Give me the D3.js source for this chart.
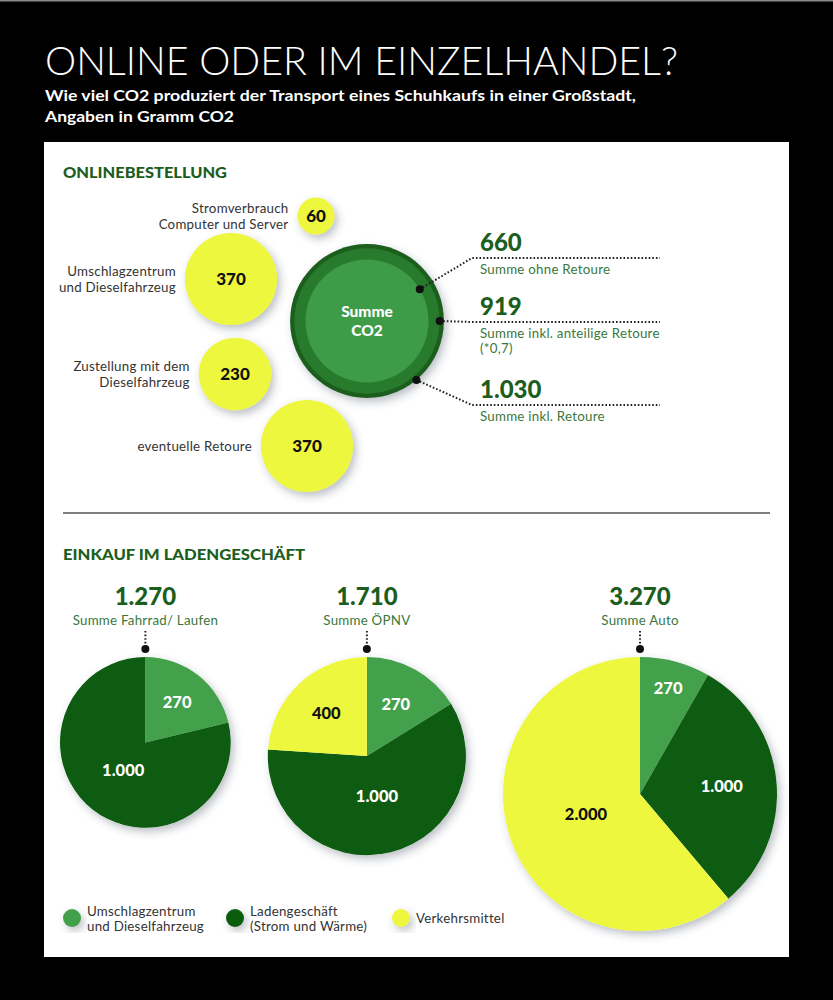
<!DOCTYPE html>
<html>
<head>
<meta charset="utf-8">
<script src="https://cdn.jsdelivr.net/npm/d3@7"></script>
<style>
  body { margin: 0; background: #000; }
  svg text { font-family: Lato, "Open Sans", sans-serif; }
</style>
</head>
<body>
<svg id="chart"></svg>
<script>
// ---- data ----
const title = "ONLINE ODER IM EINZELHANDEL?";
const subtitle = ["Wie viel CO2 produziert der Transport eines Schuhkaufs in einer Großstadt,", "Angaben in Gramm CO2"];

const onlineLabels = [["Stromverbrauch", "Computer und Server"], ["Umschlagzentrum", "und Dieselfahrzeug"], ["Zustellung mit dem", "Dieselfahrzeug"], ["eventuelle Retoure"]];
const onlineValues = [60, 370, 230, 370];

const sumValues = [660, 919, 1030];
const sumLabels = [["Summe ohne Retoure"], ["Summe inkl. anteilige Retoure", "(*0,7)"], ["Summe inkl. Retoure"]];

const storeNames = ["Summe Fahrrad/ Laufen", "Summe ÖPNV", "Summe Auto"];
const storeTotals = [1270, 1710, 3270];
const umschlagValues = [270, 270, 270];
const ladenValues = [1000, 1000, 1000];
const verkehrValues = [0, 400, 2000];

const legendLabels = [["Umschlagzentrum", "und Dieselfahrzeug"], ["Ladengeschäft", "(Strom und Wärme)"], ["Verkehrsmittel"]];

// ---- layout / style ----
const W = 833, H = 1000;
const colLight = "#43a04b", colDark = "#0d5c11", colYellow = "#edf73d";
const ringColors = ["#3e9b48", "#287a2c", "#1a5e1e"];
const headGreen = "#1c5e20", labelGreen = "#3a773c";
const smallFont = 13.3, smallSpacing = 0.25;
const bubbleCenters = [[316, 216], [231, 279], [235, 374], [307, 446]];
const sumCenter = [367, 321];
const sumDotAngles = [59, 90, 140];
const sumRowY = [258, 322, 405];

const de = d3.formatLocale({decimal: ",", thousands: ".", grouping: [3], currency: ["", "€"]});
const fmt = de.format(",d");

const svg = d3.select("#chart").attr("width", W).attr("height", H);

const defs = svg.append("defs");
defs.append("filter").attr("id", "shadow")
    .attr("x", "-30%").attr("y", "-30%").attr("width", "160%").attr("height", "160%")
  .append("feDropShadow")
    .attr("dx", 3).attr("dy", 4).attr("stdDeviation", 4)
    .attr("flood-color", "#3c4c5c").attr("flood-opacity", 0.35);

svg.append("rect").attr("width", W).attr("height", H).attr("fill", "#000");
svg.append("rect").attr("width", W).attr("height", 1.5).attr("fill", "#8a8a8a");

function lines(g, arr, x, y, dy) {
  const t = g.append("text").attr("x", x).attr("y", y);
  arr.forEach((s, i) => t.append("tspan").attr("x", x).attr("y", y + i * dy).text(s));
  return t;
}
function small(t, color) {
  return t.attr("font-size", smallFont).attr("letter-spacing", smallSpacing).attr("fill", color);
}

// title
svg.append("text").attr("x", 45).attr("y", 75)
    .attr("fill", "#fff").attr("font-size", 40).attr("font-weight", 300)
    .attr("textLength", 633).attr("lengthAdjust", "spacingAndGlyphs")
    .text(title);
svg.selectAll("text.sub").data(subtitle).join("text")
    .attr("class", "sub")
    .attr("x", 45).attr("y", (d, i) => 101 + i * 21)
    .attr("fill", "#fff").attr("font-size", 15.5).attr("font-weight", 700)
    .attr("textLength", (d, i) => [591, 189][i]).attr("lengthAdjust", "spacingAndGlyphs")
    .text(d => d);

// panel
svg.append("rect").attr("x", 44).attr("y", 142).attr("width", 745).attr("height", 815).attr("fill", "#fff");
svg.append("line").attr("x1", 63).attr("x2", 770).attr("y1", 513).attr("y2", 513)
    .attr("stroke", "#555").attr("stroke-width", 1.5);

svg.append("text").attr("x", 63).attr("y", 178).attr("fill", headGreen)
    .attr("font-size", 15).attr("font-weight", 900)
    .attr("textLength", 164).attr("lengthAdjust", "spacingAndGlyphs")
    .text("ONLINEBESTELLUNG");
svg.append("text").attr("x", 63).attr("y", 560).attr("fill", headGreen)
    .attr("font-size", 15).attr("font-weight", 900)
    .attr("textLength", 242).attr("lengthAdjust", "spacingAndGlyphs")
    .text("EINKAUF IM LADENGESCHÄFT");

// one area scale for all circles
const r = d3.scaleSqrt().domain([0, 3270]).range([0, 137]);

// ---- online bubbles ----
const online = svg.append("g");
const bub = online.selectAll("g.bub").data(onlineValues).join("g")
    .attr("class", "bub")
    .attr("transform", (d, i) => `translate(${bubbleCenters[i][0]},${bubbleCenters[i][1]})`);
bub.append("circle").attr("r", d => r(d)).attr("fill", colYellow).attr("filter", "url(#shadow)");
bub.append("text").attr("text-anchor", "middle").attr("dy", "0.36em")
    .attr("font-size", 17).attr("font-weight", 900).attr("fill", "#111")
    .text(d => fmt(d));
bub.each(function(d, i) {
  const n = onlineLabels[i].length;
  small(lines(d3.select(this), onlineLabels[i], -r(d) - 9, 4.5 - (n - 1) * 8, 16), "#333")
      .attr("text-anchor", "end");
});

// sum circles (largest first)
const sumG = svg.append("g").attr("transform", `translate(${sumCenter[0]},${sumCenter[1]})`);
const sumOrder = sumValues.map((v, i) => i).reverse();
sumG.selectAll("circle.ring").data(sumOrder).join("circle")
    .attr("class", "ring")
    .attr("r", i => r(sumValues[i]))
    .attr("fill", i => ringColors[i])
    .attr("filter", (i, k) => k === 0 ? "url(#shadow)" : null);
lines(sumG, ["Summe", "CO2"], 0, -4, 19)
    .attr("text-anchor", "middle").attr("font-size", 15.5).attr("font-weight", 900).attr("fill", "#fff");

sumValues.forEach((v, i) => {
  const a = sumDotAngles[i] * Math.PI / 180;
  const px = sumCenter[0] + Math.sin(a) * r(v), py = sumCenter[1] - Math.cos(a) * r(v);
  const y = sumRowY[i];
  svg.append("path")
      .attr("d", d3.line()([[px, py], [472, y], [660, y]]))
      .attr("fill", "none").attr("stroke", "#222").attr("stroke-width", 2)
      .attr("stroke-dasharray", "1.6,2");
  svg.append("circle").attr("cx", px).attr("cy", py).attr("r", 4).attr("fill", "#111");
  svg.append("text").attr("x", 480).attr("y", y - 7)
      .attr("font-size", 24).attr("font-weight", 900).attr("fill", headGreen)
      .text(fmt(v));
  small(lines(svg, sumLabels[i], 480, y + 16, 15), labelGreen);
});

// ---- store pies ----
const sliceColors = [colLight, colDark, colYellow];
const pie = d3.pie().sort(null).value(d => d.v);
const pieTop = 657, pieLeft = 60, pieRight = 777;
const radii = storeTotals.map(t => r(t));
const gap = (pieRight - pieLeft - d3.sum(radii) * 2) / (radii.length - 1);
let cursor = pieLeft;
const pieCx = radii.map(rr => { const c = cursor + rr; cursor += rr * 2 + gap; return c; });

// label distance from the centre, as a share of the radius, by slice size
const labelFactor = d => {
  const span = d.endAngle - d.startAngle;
  return span < 0.6 ? 0.8 : span > Math.PI ? 0.42 : 0.6;
};

storeTotals.forEach((tot, i) => {
  const rr = radii[i], cx = pieCx[i], cy = pieTop + rr;
  const slices = [umschlagValues[i], ladenValues[i], verkehrValues[i]].map((v, k) => ({v, k}));
  const g = svg.append("g").attr("transform", `translate(${cx},${cy})`);
  g.append("circle").attr("r", rr).attr("fill", "#fff").attr("filter", "url(#shadow)");
  const arcs = pie(slices).filter(d => d.data.v > 0);
  g.selectAll("path").data(arcs).join("path")
      .attr("d", d3.arc().innerRadius(0).outerRadius(rr))
      .attr("fill", d => sliceColors[d.data.k]);
  g.selectAll("text.val").data(arcs).join("text")
      .attr("class", "val")
      .attr("x", d => Math.sin((d.startAngle + d.endAngle) / 2) * rr * labelFactor(d))
      .attr("y", d => -Math.cos((d.startAngle + d.endAngle) / 2) * rr * labelFactor(d))
      .attr("dy", "0.36em").attr("text-anchor", "middle")
      .attr("font-size", 16.5).attr("font-weight", 900)
      .attr("fill", d => d.data.k === 2 ? "#111" : "#fff")
      .text(d => fmt(d.data.v));

  svg.append("text").attr("x", cx).attr("y", pieTop - 52).attr("text-anchor", "middle")
      .attr("font-size", 24).attr("font-weight", 900).attr("fill", headGreen)
      .text(fmt(tot));
  small(svg.append("text").attr("x", cx).attr("y", pieTop - 32).attr("text-anchor", "middle"), labelGreen)
      .text(storeNames[i]);
  svg.append("line").attr("x1", cx).attr("x2", cx).attr("y1", pieTop - 26).attr("y2", pieTop - 10)
      .attr("stroke", "#222").attr("stroke-width", 2).attr("stroke-dasharray", "1.6,2");
  svg.append("circle").attr("cx", cx).attr("cy", pieTop - 8).attr("r", 4).attr("fill", "#111");
});

// ---- legend ----
const legendX = [72, 235, 401];
const leg = svg.selectAll("g.leg").data(legendLabels).join("g")
    .attr("class", "leg")
    .attr("transform", (d, i) => `translate(${legendX[i]},918)`);
leg.append("circle").attr("r", 9).attr("fill", (d, i) => sliceColors[i]).attr("filter", "url(#shadow)");
leg.each(function(d) {
  small(lines(d3.select(this), d, 15, d.length > 1 ? -2.5 : 4.5, 15.5), "#333");
});
</script>
</body>
</html>
